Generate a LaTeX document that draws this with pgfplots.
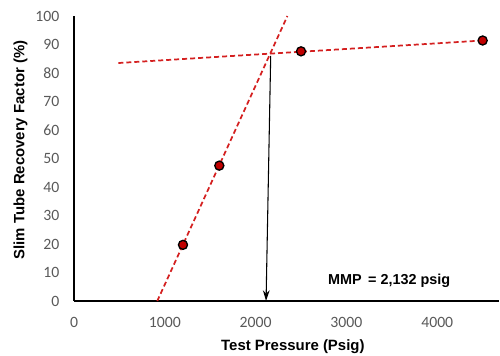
\documentclass[border=0pt]{standalone}
\usepackage{fontspec}
\setmainfont{Liberation Sans}
\newfontfamily\calibri{Carlito}
\usepackage{pgfplots}
\pgfplotsset{compat=1.18}
\usetikzlibrary{arrows.meta}
\definecolor{mkred}{HTML}{C00000}
\definecolor{lnred}{HTML}{D42020}
\definecolor{tickgray}{HTML}{595959}
\begin{document}
\begin{tikzpicture}
\useasboundingbox (-55.5pt,-41.25pt) rectangle (319.5pt,225.75pt);
\begin{axis}[
  scale only axis,
  width=318.75pt, height=213.75pt,
  xmin=0, xmax=4680, ymin=0, ymax=100,
  axis x line*=bottom, axis y line*=left,
  axis line style={black, line width=1.1pt, -},
  xtick={0,1000,2000,3000,4000},
  ytick={0,10,...,100},
  major tick length=0pt,
  /pgf/number format/assume math mode=true,
  /pgf/number format/1000 sep={},
  tick label style={font=\calibri\fontsize{11.8}{13}\selectfont, text=tickgray},
  yticklabel style={xshift=-7.5pt},
  xticklabel style={yshift=-8.5pt},
  xlabel={\bfseries Test Pressure (Psig)},
  ylabel={\bfseries Slim Tube Recovery Factor (\%)},
  label style={font=\fontsize{11.2}{13}\selectfont},
  xlabel style={at={(axis description cs:0.515,0)}, anchor=center, yshift=-34.3pt},
  ylabel style={at={(axis description cs:-0.1258,0.53)}, anchor=center},
  clip=false,
]
\addplot[lnred, line width=1.3pt, dash pattern=on 3.75pt off 2.25pt] coordinates {(917,0) (2350,100)};
\addplot[lnred, line width=1.3pt, dash pattern=on 3.75pt off 2.25pt] coordinates {(488,83.5) (4500,91.4)};
\addplot[black, line width=0.8pt, -{Stealth[length=8pt,width=5pt]}] coordinates {(2166,86) (2115,0)};
\addplot[only marks, mark=*, mark size=3.4pt, mark options={fill=mkred, draw=black, line width=1pt}] coordinates {(1200,19.7) (1600,47.5) (2500,87.6) (4500,91.4)};
\node[font=\bfseries\fontsize{10.8}{12}\selectfont] at (axis cs:3470,7) {MMP \,= 2,132 psig};
\end{axis}
\end{tikzpicture}
\end{document}
